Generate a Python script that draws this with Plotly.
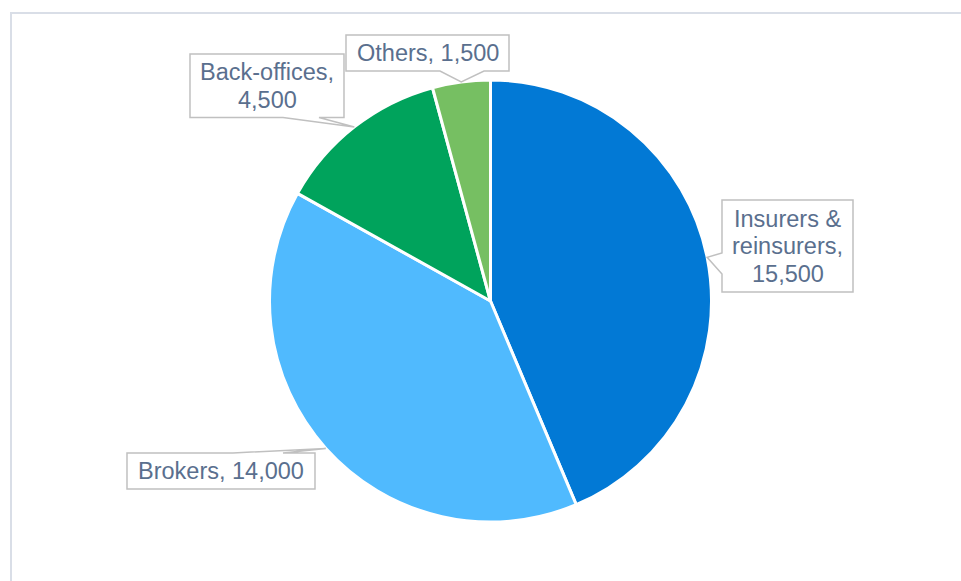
import math
import plotly.graph_objects as go

# Employment by segment
categories = ["Insurers & reinsurers", "Brokers", "Back-offices", "Others"]
values = [15500, 14000, 4500, 1500]
# how each category name is wrapped inside its label box
label_names = ["Insurers &<br>reinsurers", "Brokers", "Back-offices", "Others"]
value_on_new_line = [True, False, True, False]
colors = ["#0279D5", "#50BAFE", "#00A35C", "#76BF62"]

W, H = 961, 581
CX, CY, R = 490.5, 301.0, 221.0  # pie centre and radius in pixels

TEXT_COLOR = "#5A6F8E"
BOX_LINE = "#C0C0C0"
FONT = "Liberation Sans, Arial, sans-serif"
FONT_SIZE = 23.5
LINE_GAP = 27.5

# label boxes: left, top, right, bottom (px); pointer side and base span
boxes = [
    dict(box=(722, 200, 853, 292), side="left", base=(253, 274)),
    dict(box=(127, 453, 315, 489), side="top", base=(233, 283)),
    dict(box=(190, 54, 344, 117.5), side="bottom", base=(283, 319)),
    dict(box=(346, 35, 509, 71), side="bottom", base=(440, 484)),
]


def px(x):
    return x / W


def py(y):
    return 1 - y / H


fig = go.Figure()
fig.add_trace(go.Pie(
    labels=categories,
    values=values,
    sort=False,
    direction="clockwise",
    rotation=0,
    textinfo="none",
    hoverinfo="label+value",
    showlegend=False,
    marker=dict(colors=colors, line=dict(color="white", width=3)),
    domain=dict(x=[px(CX - R), px(CX + R)], y=[py(CY + R), py(CY - R)]),
))

total = sum(values)
shapes = []
annotations = []

# outer frame of the chart area
shapes.append(dict(type="rect", xref="paper", yref="paper",
                   x0=px(11), y0=py(13), x1=1.05, y1=-0.05,
                   line=dict(color="#D9DEE7", width=2), layer="below"))

cum = 0.0
for i, v in enumerate(values):
    theta = 2 * math.pi * (cum + v / 2) / total
    cum += v
    tx = CX + R * math.sin(theta)
    ty = CY - R * math.cos(theta)

    l, t, r, b = boxes[i]["box"]
    b0, b1 = boxes[i]["base"]
    side = boxes[i]["side"]
    if side == "left":
        pts = [(l, t), (r, t), (r, b), (l, b), (l, b1), (tx, ty), (l, b0)]
    elif side == "top":
        pts = [(l, t), (b0, t), (tx, ty), (b1, t), (r, t), (r, b), (l, b)]
    else:  # bottom
        pts = [(l, t), (r, t), (r, b), (b1, b), (tx, ty), (b0, b), (l, b)]
    path = "M " + " L ".join(f"{px(x):.5f},{py(y):.5f}" for x, y in pts) + " Z"
    shapes.append(dict(type="path", xref="paper", yref="paper", path=path,
                       fillcolor="white", line=dict(color=BOX_LINE, width=1.5),
                       layer="above"))

    sep = "<br>" if value_on_new_line[i] else " "
    text = f"{label_names[i]},{sep}{v:,}"
    lines = text.split("<br>")
    mid_y = (t + b) / 2
    mid_x = (l + r) / 2
    n = len(lines)
    for k, line in enumerate(lines):
        ly = mid_y + (k - (n - 1) / 2) * LINE_GAP
        annotations.append(dict(
            x=px(mid_x), y=py(ly), xref="paper", yref="paper",
            text=line, showarrow=False, xanchor="center", yanchor="middle",
            font=dict(family=FONT, size=FONT_SIZE, color=TEXT_COLOR),
        ))

fig.update_layout(
    width=W, height=H,
    margin=dict(l=0, r=0, t=0, b=0),
    paper_bgcolor="white",
    plot_bgcolor="white",
    shapes=shapes,
    annotations=annotations,
)

fig.write_html("out.html")
